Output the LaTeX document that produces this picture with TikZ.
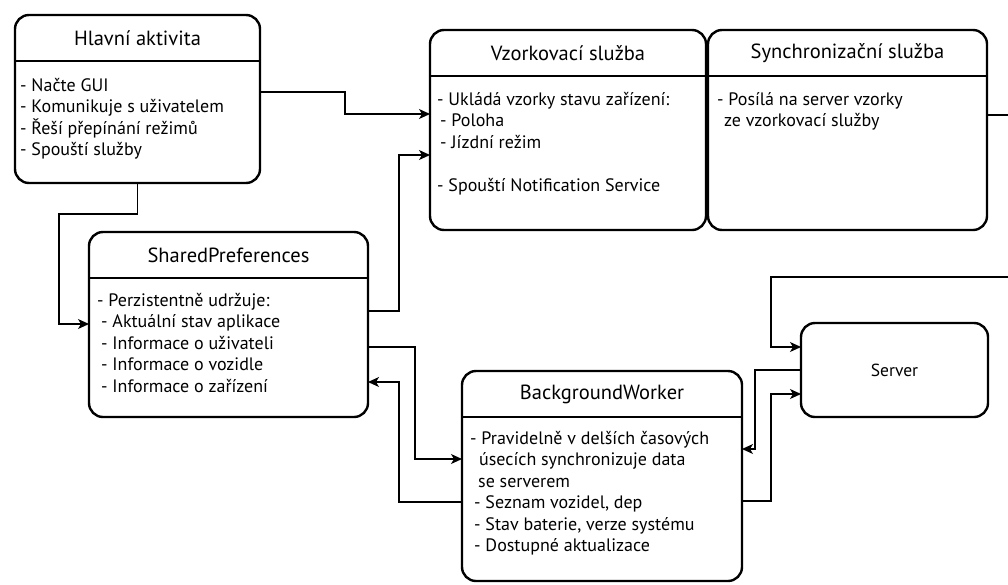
\documentclass[tikz,border=0pt]{standalone}
\usepackage{fontspec}
\setmainfont{PT Sans}
\usetikzlibrary{positioning,calc,arrows.meta}
\setlength{\lineskiplimit}{-20pt}

\tikzset{
  box/.style={draw, rectangle, rounded corners=14pt, line width=2.4pt,
    outer sep=0pt},
  head/.style={font=\fontsize{20.5}{24}\selectfont, inner sep=0pt},
  body/.style={font=\fontsize{18}{21.5}\selectfont,
    align=left, anchor=north west, inner sep=0pt},
  conn/.style={line width=1.2pt, -{Stealth[length=11pt,width=10pt,inset=3pt]}},
}

\begin{document}
\begin{tikzpicture}[x=1pt,y=-1pt]
        \useasboundingbox (0,0) rectangle (1008,584);

        % boxes
        \node[box, minimum width=245pt, minimum height=168pt] (main)
        at (137.5,99) {};
        \node[box, minimum width=276pt, minimum height=200pt] (sample)
        at (568,130) {};
        \node[box, minimum width=279pt, minimum height=200pt] (sync)
        at (847.5,130) {};
        \node[box, minimum width=279pt, minimum height=185pt] (prefs)
        at (228.5,324.5) {};
        \node[box, minimum width=280pt, minimum height=210pt] (worker)
        at (602,476) {};
        \node[box, minimum width=187pt, minimum height=94pt] (server)
        at (894.5,370) {\fontsize{17.5}{20}\selectfont Server};

        % headers
        \foreach \b/\t in {main/Hlavní aktivita, sample/Vzorkovací služba,
          sync/Synchronizační služba, prefs/SharedPreferences,
          worker/BackgroundWorker} {
          \node[head] (\b-title) at ([yshift=-23pt]\b.north) {\t};
          \draw[line width=2.4pt] ([yshift=-46pt]\b.north west) --
          ([yshift=-46pt]\b.north east);
        }

        % texts
        \node[body] (main-text) at ([xshift=5pt,yshift=-63pt]main.north west)
        {- Načte GUI\\- Komunikuje s uživatelem\\- Řeší přepínání režimů\\
          - Spouští služby};
        \node[body] (sample-text) at ([xshift=7pt,yshift=-62pt]sample.north west)
        {- Ukládá vzorky stavu zařízení:\\\hspace{3pt}- Poloha\\
          \hspace{3pt}- Jízdní režim\\[21.5pt]- Spouští Notification Service};
        \node[body] (sync-text) at ([xshift=9pt,yshift=-62pt]sync.north west)
        {- Posílá na server vzorky\\\hspace{7pt}ze vzorkovací služby};
        \node[body] (prefs-text) at ([xshift=8pt,yshift=-61pt]prefs.north west)
        {- Perzistentně udržuje:\\\hspace{4pt}- Aktuální stav aplikace\\
          \hspace{4pt}- Informace o uživateli\\\hspace{4pt}- Informace o vozidle\\
          \hspace{4pt}- Informace o zařízení};
        \node[body] (worker-text) at ([xshift=8pt,yshift=-60pt]worker.north west)
        {- Pravidelně v delších časových\\\hspace{9pt}úsecích synchronizuje data\\
          \hspace{8pt}se serverem\\\hspace{4pt}- Seznam vozidel, dep\\
          \hspace{4pt}- Stav baterie, verze systému\\
          \hspace{4pt}- Dostupné aktualizace};

        % connectors
        \draw[conn] (main.east |- 0,92) -- (345,92) |- (sample.west |- 0,114);
        \draw[conn] (main.south) -- (main.south |- 0,214) -| (59,324)
        -- (prefs.west |- 0,324);
        \draw[conn] (prefs.east |- 0,311) -| (399,155) -- (sample.west |- 0,155);
        \draw[conn] (prefs.east |- 0,347) -| (415,459) -- (worker.west |- 0,459);
        \draw[conn] (worker.west |- 0,502) -| (399,382) -- (prefs.east |- 0,382);
        \draw[conn] (server.west |- 0,370) -| (755,449) -- (worker.east |- 0,449);
        \draw[conn] (worker.east |- 0,501) -| (771,394) -- (server.west |- 0,394);
        \draw[conn] (sync.east |- 0,115) -- (1030,115) |- (771,277)
        |- (server.west |- 0,347);
      \end{tikzpicture}
\end{document}
